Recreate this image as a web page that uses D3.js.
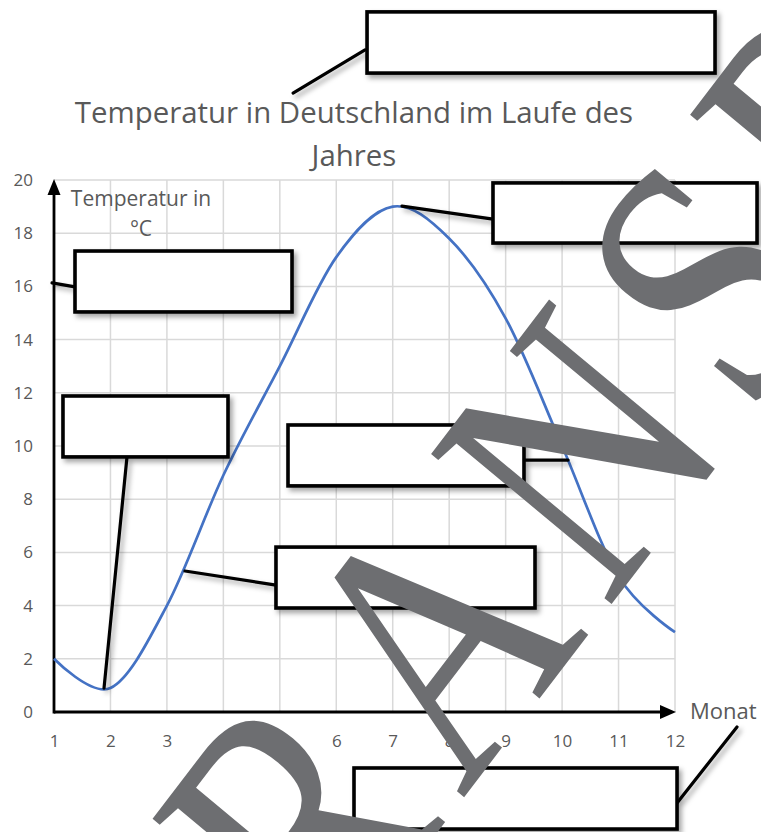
<!DOCTYPE html>
<html>
<head>
<meta charset="utf-8">
<script src="https://cdn.jsdelivr.net/npm/d3@7"></script>
<style>
  html, body { margin: 0; padding: 0; background: #ffffff; }
  svg { display: block; }
</style>
</head>
<body>
<svg id="chart" width="761" height="832"></svg>
<script>
// ---- data ----
const months = [1, 2, 3, 4, 5, 6, 7, 8, 9, 10, 11, 12];
const temps = [2.0, 0.9, 4.0, 8.9, 13.0, 17.1, 19.0, 17.8, 14.8, 10.0, 5.1, 3.0];
const yTicks = [0, 2, 4, 6, 8, 10, 12, 14, 16, 18, 20];
const xTicks = [1, 2, 3, 4, 5, 6, 7, 8, 9, 10, 11, 12];
const titleLines = ["Temperatur in Deutschland im Laufe des", "Jahres"];
const yTitleLines = ["Temperatur in", "°C"];
const xTitle = "Monat";
const watermark = "RANSP";

// empty callout boxes (in chart units: month / °C), with leader lines
const boxes = [
  { m: [6.545, 12.709], t: [24.02, 26.32], lead: [[5.234, 23.27], [6.509, 24.89]] },
  { m: [8.776, 13.453], t: [17.63, 19.89], lead: [[7.164, 19.02], [8.776, 18.53]] },
  { m: [1.372, 5.216], t: [15.04, 17.33], lead: [[0.965, 16.13], [1.372, 15.98]] },
  { m: [1.159, 4.082], t: [9.59, 11.88], lead: [[2.293, 9.59], [1.886, 0.90]] },
  { m: [5.145, 9.325], t: [8.50, 10.79], lead: [[9.325, 9.47], [10.105, 9.47]] },
  { m: [4.932, 9.52], t: [3.91, 6.20], lead: [[3.32, 5.30], [4.932, 4.77]] },
  { m: [6.314, 12.036], t: [-4.40, -2.105], lead: [[12.036, -3.42], [13.098, -0.56]] }
];

// ---- layout ----
const svg = d3.select("#chart");
const x = d3.scaleLinear().domain([1, 12]).range([54, 675]);
const y = d3.scaleLinear().domain([0, 20]).range([712, 180]);
const textCol = "#595959";
const font = "'Open Sans', sans-serif";

const defs = svg.append("defs");
const f = defs.append("filter").attr("id", "shadow")
  .attr("x", "-20%").attr("y", "-20%").attr("width", "140%").attr("height", "160%");
f.append("feDropShadow").attr("dx", 3).attr("dy", 3.5).attr("stdDeviation", 2.5)
  .attr("flood-color", "#000").attr("flood-opacity", 0.35);

// grid
const grid = svg.append("g").attr("stroke", "#d9d9d9").attr("stroke-width", 1.5);
grid.selectAll("line.v").data(xTicks.slice(1)).join("line")
  .attr("x1", d => x(d)).attr("x2", d => x(d))
  .attr("y1", y(0)).attr("y2", y(20));
grid.selectAll("line.h").data(yTicks.slice(1)).join("line")
  .attr("x1", x(1)).attr("x2", x(12))
  .attr("y1", d => y(d)).attr("y2", d => y(d));

// axes lines with arrows
const ax = svg.append("g");
ax.append("line").attr("x1", x(1)).attr("x2", x(12) - 12)
  .attr("y1", y(0)).attr("y2", y(0)).attr("stroke", "#000").attr("stroke-width", 2.8);
ax.append("path")
  .attr("d", `M${x(12) + 1},${y(0)} L${x(12) - 15},${y(0) - 7} L${x(12) - 15},${y(0) + 7} Z`)
  .attr("fill", "#000");
ax.append("line").attr("x1", x(1)).attr("x2", x(1))
  .attr("y1", y(0) + 1.4).attr("y2", y(20) + 12).attr("stroke", "#000").attr("stroke-width", 2.8);
ax.append("path")
  .attr("d", `M${x(1)},${y(20) - 1} L${x(1) - 6.5},${y(20) + 15} L${x(1) + 6.5},${y(20) + 15} Z`)
  .attr("fill", "#000");

// tick labels
const yAxis = svg.append("g").attr("transform", `translate(${x(1)},0)`)
  .call(d3.axisLeft(y).tickValues(yTicks).tickSize(0).tickPadding(21));
const xAxis = svg.append("g").attr("transform", `translate(0,${y(0)})`)
  .call(d3.axisBottom(x).tickValues(xTicks).tickSize(0).tickPadding(23));
[yAxis, xAxis].forEach(g => {
  g.select(".domain").remove();
  g.selectAll("text").attr("fill", textCol).style("font-family", font).style("font-size", "17px");
});

// temperature curve
const line = d3.line().x((d, i) => x(months[i])).y(d => y(d)).curve(d3.curveCardinal.tension(0));
svg.append("path").datum(temps).attr("d", line)
  .attr("fill", "none").attr("stroke", "#4472c4").attr("stroke-width", 2.7);

// titles
svg.append("text").attr("text-anchor", "middle").attr("fill", textCol)
  .style("font-family", font).style("font-size", "29.4px")
  .selectAll("tspan").data(titleLines).join("tspan")
  .attr("x", 354).attr("y", (d, i) => 123 + i * 43).text(d => d);
svg.append("text").attr("text-anchor", "middle").attr("fill", textCol)
  .style("font-family", font).style("font-size", "21px")
  .selectAll("tspan").data(yTitleLines).join("tspan")
  .attr("x", 141).attr("y", (d, i) => 206 + i * 30).text(d => d);
svg.append("text").attr("x", 690).attr("y", 719).attr("fill", textCol)
  .style("font-family", font).style("font-size", "22px").text(xTitle);

// callouts
const cg = svg.append("g").attr("filter", "url(#shadow)");
boxes.forEach(b => {
  cg.append("line")
    .attr("x1", x(b.lead[0][0])).attr("y1", y(b.lead[0][1]))
    .attr("x2", x(b.lead[1][0])).attr("y2", y(b.lead[1][1]))
    .attr("stroke", "#000").attr("stroke-width", 3.2).attr("stroke-linecap", "round");
});
boxes.forEach(b => {
  cg.append("rect")
    .attr("x", x(b.m[0])).attr("y", y(b.t[1]))
    .attr("width", x(b.m[1]) - x(b.m[0])).attr("height", y(b.t[0]) - y(b.t[1]))
    .attr("fill", "#fff").attr("stroke", "#000").attr("stroke-width", 3.6);
});

// watermark (rotated, stretched along letter height)
svg.append("text")
  .attr("transform", "matrix(0.607,-0.795,0.9506,0.790,328,975.5)")
  .attr("fill", "#6d6e71")
  .style("font-family", "'Liberation Serif', 'Times New Roman', serif")
  .style("font-size", "290px")
  .style("letter-spacing", "28px")
  .text(watermark);
</script>
</body>
</html>
